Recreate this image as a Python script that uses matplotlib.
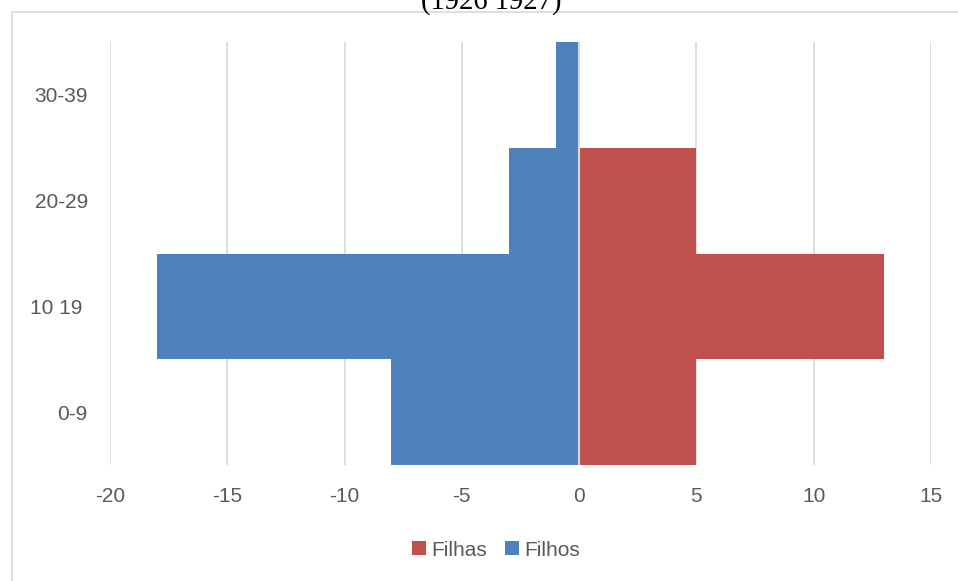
import matplotlib
matplotlib.use("Agg")
import matplotlib.pyplot as plt
from matplotlib.patches import Rectangle

# age groups, bottom to top
categories = ["0-9", "10 19 ", "20-29", "30-39"]
filhos = [-8, -18, -3, -1]   # sons, drawn to the left
filhas = [5, 13, 5, 0]       # daughters, drawn to the right
x_ticks = [-20, -15, -10, -5, 0, 5, 10, 15]

BLUE = "#4F81BD"
RED = "#C0504D"
GRID = "#D9D9D9"
TEXT = "#595959"
FONT = "Liberation Sans"

W, H = 958, 581
fig = plt.figure(figsize=(W / 100, H / 100), dpi=100)
ax = fig.add_axes([110 / W, 1 - 465 / H, 821 / W, 423 / H])

pos = list(range(len(categories)))
ax.barh(pos, filhos, height=1.0, color=BLUE, label="Filhos", zorder=2)
ax.barh(pos, filhas, height=1.0, color=RED, label="Filhas", zorder=2)
ax.axvline(0, color=GRID, lw=1.5, zorder=3)

ax.set_xlim(-20, 15)
ax.set_ylim(-0.5, len(categories) - 0.5)
ax.set_xticks(x_ticks)
ax.set_xticklabels([str(v) for v in x_ticks], fontsize=15, color=TEXT, family=FONT)
ax.set_yticks(pos)
ax.set_yticklabels(categories, fontsize=15, color=TEXT, family=FONT)
ax.tick_params(axis="both", length=0)
ax.tick_params(axis="x", pad=16)
ax.tick_params(axis="y", pad=16)
ax.grid(axis="x", color=GRID, lw=1.2, zorder=0)
ax.set_axisbelow(True)
for s in ax.spines.values():
    s.set_visible(False)

# legend: Filhas first, then Filhos
h, l = ax.get_legend_handles_labels()
fig.legend([h[1], h[0]], [l[1], l[0]], loc="center",
           bbox_to_anchor=(496 / W, 1 - 550 / H), ncol=2, frameon=False,
           prop={"family": FONT, "size": 15}, labelcolor=TEXT,
           handlelength=0.67, handleheight=0.67, handletextpad=0.25,
           columnspacing=0.9)

# chart frame, runs past the right and bottom edges
fig.patches.append(Rectangle((12 / W, -0.1), 1.2, 1.1 - 12 / H,
                             transform=fig.transFigure, fill=False,
                             edgecolor=GRID, lw=1.2))

fig.text(491 / W, 1 - 9 / H, "(1926 1927)", ha="center", va="baseline",
         fontsize=20.6, family="Liberation Serif", color="black")

fig.savefig("out.png", dpi=100)
